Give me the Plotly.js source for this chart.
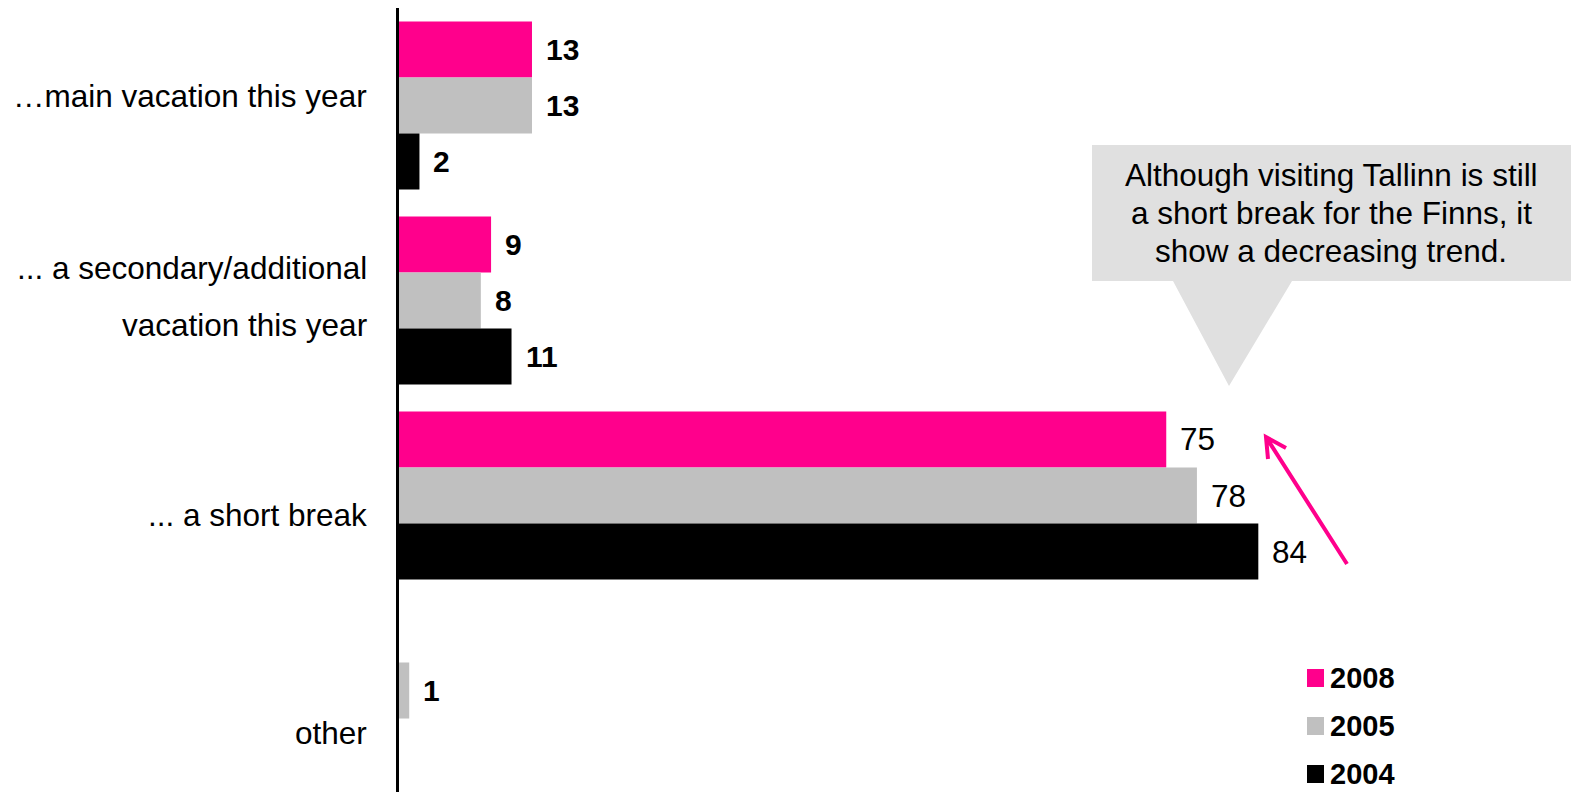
<!DOCTYPE html>
<html>
<head>
<meta charset="utf-8">
<script src="https://cdn.plot.ly/plotly-3.0.1.min.js"></script>
<style>
  html, body { margin: 0; padding: 0; background: #ffffff; }
  #chart { width: 1571px; height: 792px; }
</style>
</head>
<body>
<div id="chart"></div>
<script>
// ---- data ----
const categories = [
  "…main vacation this year",
  "... a secondary/additional<br>vacation this year",
  "... a short break",
  "other"
];
const years = ["2008", "2005", "2004"];
const values2008 = [13, 9, 75, null];
const values2005 = [13, 8, 78, 1];
const values2004 = [2, 11, 84, null];
const calloutLines = [
  "Although visiting Tallinn is still",
  "a short break for the Finns, it",
  "show a decreasing trend."
];

// ---- style / layout ----
const seriesValues = [values2008, values2005, values2004];
const colors = ["#ff008c", "#c0c0c0", "#000000"];
const FONT = "'Liberation Sans', Arial, sans-serif";
const W = 1571, H = 792;
const M = { l: 399, r: 0, t: 8, b: 4 };
const PW = W - M.l - M.r, PH = H - M.t - M.b;
const UNIT = 10.23;            // px per value unit
const BARGAP = 0.138;
const px = x => (x - M.l) / PW;
const py = y => 1 - (y - M.t) / PH;

const traces = years.map((yr, s) => ({
  type: "bar",
  orientation: "h",
  name: yr,
  y: categories,
  x: seriesValues[s],
  marker: { color: colors[s], line: { width: 0 } },
  hoverinfo: "skip",
  showlegend: false
}));

const annotations = [];
const bw = (1 - BARGAP) / years.length;

// value labels
seriesValues.forEach((vals, s) => {
  vals.forEach((v, i) => {
    if (v === null) return;
    const bold = i !== 2;
    annotations.push({
      xref: "x", yref: "y",
      x: v, y: i + (s - (years.length - 1) / 2) * bw,
      text: String(v),
      showarrow: false,
      xanchor: "left", yanchor: "middle",
      xshift: 12,
      font: { family: FONT, size: bold ? 30 : 31.5, color: "#000", weight: bold ? "bold" : "normal" }
    });
  });
});

// category labels (left side)
const labelShifts = [[10], [32.5, -24.5], [-19.5], [-42.5]];
categories.forEach((c, i) => {
  c.split("<br>").forEach((line, k) => {
    annotations.push({
      xref: "paper", yref: "y",
      x: px(369), y: i,
      yshift: labelShifts[i][k],
      text: line,
      showarrow: false,
      xanchor: "right", yanchor: "middle",
      font: { family: FONT, size: 31.5, color: "#000" }
    });
  });
});

// callout text
const calloutY = [175, 213, 251];
calloutLines.forEach((line, k) => {
  annotations.push({
    xref: "paper", yref: "paper",
    x: px(1331), y: py(calloutY[k]),
    text: line, showarrow: false,
    xanchor: "center", yanchor: "middle",
    font: { family: FONT, size: 31.5, color: "#000" }
  });
});

// legend (custom)
const shapes = [];
years.forEach((yr, s) => {
  const cy = 678 + s * 48;
  shapes.push({
    type: "rect", xref: "paper", yref: "paper",
    x0: px(1307), x1: px(1324), y0: py(cy - 9), y1: py(cy + 9),
    fillcolor: colors[s], line: { width: 0 }
  });
  annotations.push({
    xref: "paper", yref: "paper",
    x: px(1328), y: py(cy),
    text: yr, showarrow: false,
    xanchor: "left", yanchor: "middle",
    font: { family: FONT, size: 29, color: "#000", weight: "bold" }
  });
});

// vertical axis line (full height)
shapes.push({
  type: "line", xref: "paper", yref: "paper",
  x0: px(397.5), x1: px(397.5), y0: py(8), y1: py(792),
  line: { color: "#000", width: 3 }
});

// callout bubble
shapes.push({
  type: "path", xref: "paper", yref: "paper",
  path: `M ${px(1092)} ${py(145)} L ${px(1571)} ${py(145)} L ${px(1571)} ${py(281)} ` +
        `L ${px(1292)} ${py(281)} L ${px(1229)} ${py(386)} L ${px(1173)} ${py(281)} ` +
        `L ${px(1092)} ${py(281)} Z`,
  fillcolor: "#e0e0e0", line: { width: 0 }, layer: "below"
});

// pink arrow
shapes.push({
  type: "path", xref: "paper", yref: "paper",
  path: `M ${px(1347)} ${py(564)} L ${px(1266)} ${py(437)} ` +
        `M ${px(1268)} ${py(459)} L ${px(1266)} ${py(437)} L ${px(1286)} ${py(448)}`,
  line: { color: colors[0], width: 4 }
});

const layout = {
  width: W, height: H,
  margin: M,
  paper_bgcolor: "#ffffff",
  plot_bgcolor: "rgba(0,0,0,0)",
  barmode: "group",
  bargap: BARGAP,
  bargroupgap: 0,
  showlegend: false,
  xaxis: {
    range: [0, PW / UNIT],
    showline: false, showgrid: false, zeroline: false,
    showticklabels: false, ticks: "", fixedrange: true
  },
  yaxis: {
    type: "category",
    autorange: "reversed",
    showline: false,
    showgrid: false, zeroline: false,
    showticklabels: false, ticks: "", fixedrange: true
  },
  annotations: annotations,
  shapes: shapes,
  font: { family: FONT }
};

Plotly.newPlot("chart", traces, layout, { displayModeBar: false, staticPlot: true });
</script>
</body>
</html>
